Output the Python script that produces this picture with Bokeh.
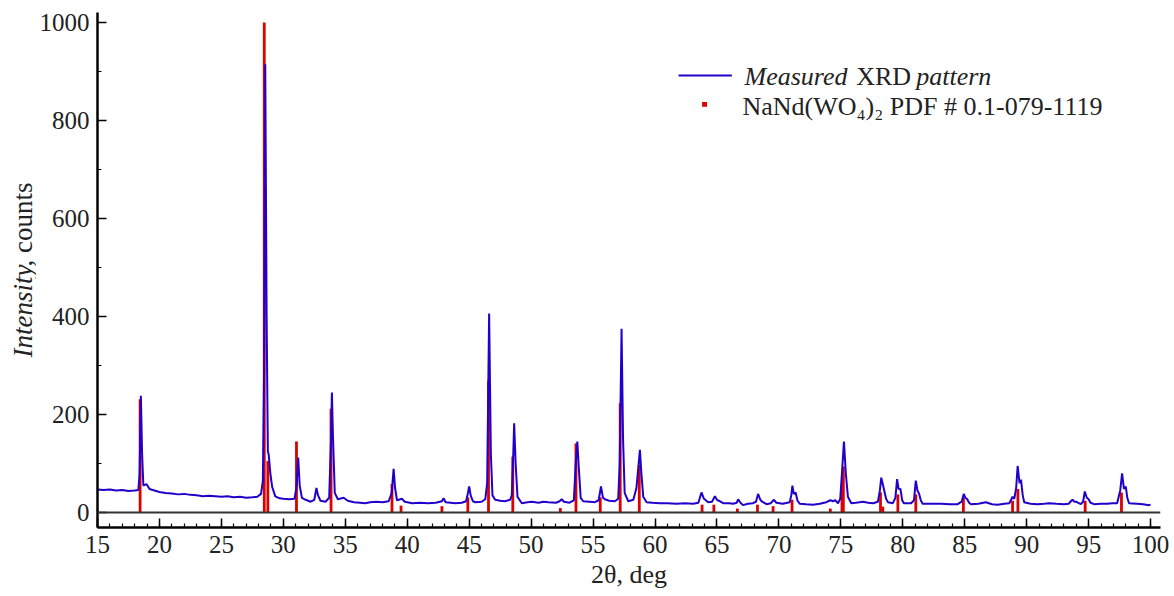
import math
from bokeh.plotting import figure
from bokeh.layouts import row
from bokeh.models import (Span, Label, BoxAnnotation, SingleIntervalTicker,
                          Range1d, ColumnDataSource)
from bokeh.embed import file_html
from bokeh.resources import INLINE

# ---- measured XRD pattern (2theta, counts) ----
two_theta = [15.0, 15.5, 16.0, 16.5, 17.0, 17.5, 18.0, 18.3, 18.4, 18.5, 18.6, 18.7, 18.95, 19.2,
             19.6, 20.0, 20.5, 21.0, 21.5, 22.0, 22.5, 23.0, 23.5, 24.0, 24.5, 25.0, 25.5, 26.0,
             26.5, 27.0, 27.5, 27.9, 28.2, 28.35, 28.45, 28.54, 28.65, 28.75, 28.82, 28.95, 29.1,
             29.35, 29.7, 30.0, 30.5, 30.9, 31.05, 31.2, 31.32, 31.5, 31.8, 32.2, 32.5, 32.67, 32.8,
             33.0, 33.4, 33.7, 33.85, 33.92, 34.0, 34.15, 34.4, 34.87, 35.2, 35.7, 36.2, 36.6, 37.0,
             37.5, 38.0, 38.5, 38.75, 38.9, 39.02, 39.17, 39.57, 39.8, 40.4, 41.0, 41.7, 42.3, 42.8,
             42.93, 43.1, 43.9, 44.4, 44.75, 44.9, 45.0, 45.12, 45.3, 45.5, 46.0, 46.3, 46.45, 46.61,
             46.75, 46.88, 47.1, 47.5, 47.9, 48.3, 48.44, 48.56, 48.63, 48.75, 48.9, 49.25, 49.7,
             50.05, 50.6, 51.0, 51.4, 52.0, 52.3, 52.47, 52.65, 53.1, 53.45, 53.6, 53.73, 53.85, 54.0,
             54.2, 54.7, 55.15, 55.45, 55.64, 55.8, 55.95, 56.3, 56.76, 57.03, 57.15, 57.3, 57.42,
             57.55, 57.84, 58.25, 58.5, 58.7, 58.78, 58.9, 59.05, 59.32, 59.8, 60.4, 61.0, 61.74,
             62.4, 63.08, 63.5, 63.75, 63.95, 64.29, 64.6, 64.83, 65.0, 65.15, 65.5, 66.0, 66.3, 66.6,
             66.71, 66.9, 67.1, 67.5, 67.9, 68.15, 68.32, 68.5, 68.65, 69.0, 69.35, 69.58, 69.8, 70.3,
             70.87, 71.0, 71.09, 71.2, 71.35, 71.5, 71.68, 72.2, 72.75, 73.3, 73.83, 74.15, 74.36,
             74.55, 74.77, 74.95, 75.1, 75.25, 75.4, 75.57, 75.84, 76.2, 76.5, 76.78, 77.2, 77.6,
             77.99, 78.15, 78.26, 78.4, 78.5, 78.65, 78.8, 79.2, 79.4, 79.54, 79.66, 79.81, 79.95,
             80.08, 80.67, 80.9, 81.05, 81.18, 81.32, 81.45, 81.6, 82.3, 83.1, 83.8, 84.43, 84.75,
             84.92, 85.05, 85.18, 85.35, 85.5, 86.1, 86.7, 87.2, 87.65, 88.2, 88.6, 88.86, 89.0,
             89.15, 89.27, 89.42, 89.54, 89.68, 89.8, 90.3, 90.88, 91.4, 91.82, 92.4, 93.0, 93.4,
             93.6, 93.7, 93.85, 93.97, 94.37, 94.55, 94.69, 94.85, 95.0, 95.15, 95.44, 96.0, 96.5,
             96.9, 97.3, 97.55, 97.7, 97.85, 98.0, 98.12, 98.26, 98.9, 99.4, 99.87, 100.0]
intensity = [47, 46, 47, 45, 46, 44, 45, 46, 80, 238, 120, 55, 58, 48,
             45, 42, 40, 39, 37, 38, 36, 35, 33, 34, 33, 32, 33, 31,
             32, 30, 31, 32, 38, 65, 300, 915, 400, 125, 118, 80, 52,
             33, 29, 28, 27, 28, 50, 112, 55, 30, 26, 22, 26, 50, 35,
             24, 22, 30, 150, 245, 160, 40, 27, 30, 24, 21, 20, 19, 21,
             22, 21, 23, 40, 89, 50, 25, 28, 22, 19, 20, 19, 20, 23,
             29, 21, 19, 20, 23, 40, 53, 35, 23, 21, 22, 27, 60, 406,
             120, 35, 26, 24, 23, 26, 35, 120, 182, 100, 32, 19, 21,
             22, 20, 22, 21, 20, 23, 27, 22, 20, 25, 100, 145, 90, 30,
             23, 22, 21, 25, 53, 30, 27, 24, 23, 28, 100, 375, 150,
             40, 23, 26, 50, 105, 128, 80, 32, 21, 20, 19, 19, 18,
             19, 18, 20, 41, 28, 21, 22, 33, 26, 24, 19, 19, 18, 20,
             27, 20, 15, 18, 19, 22, 38, 26, 22, 17, 19, 26, 20, 18,
             21, 35, 55, 38, 41, 24, 18, 17, 16, 18, 21, 25, 23,
             25, 19, 28, 85, 145, 80, 32, 19, 20, 21, 22, 20, 19,
             22, 45, 71, 56, 45, 28, 21, 19, 30, 68, 48, 48, 25,
             19, 19, 25, 65, 45, 38, 25, 18, 18, 18, 17, 17, 22,
             38, 30, 28, 20, 17, 18, 21, 17, 16, 18, 19, 32, 28,
             50, 95, 60, 67, 35, 21, 18, 17, 18, 19, 18, 17, 18,
             24, 26, 22, 22, 17, 22, 43, 30, 27, 20, 17, 18, 18,
             19, 19, 45, 80, 48, 53, 30, 19, 18, 17, 15, 16]

# ---- reference pattern NaNd(WO4)2 PDF # 0.1-079-1119 (position, relative intensity) ----
ref_pos = [18.44, 28.46, 28.75, 31.06, 33.85, 38.77, 39.5, 42.8, 44.89, 46.56, 48.52, 52.36,
           53.62, 55.58, 57.19, 58.73, 63.8, 64.75, 66.65, 68.27, 69.53, 71.06, 74.15, 75.09,
           75.2, 78.2, 78.39, 79.6, 81.05, 84.89, 88.86, 89.29, 94.72, 97.65]
ref_int = [231, 1000, 105, 145, 212, 58, 14, 13, 31, 269, 114, 9,
           141, 31, 223, 97, 16, 16, 8, 16, 13, 26, 8, 53,
           94, 41, 12, 37, 37, 30, 24, 48, 24, 41]

x_ticks_major = 5
y_ticks_major = 200

BLUE = "#2200cc"
RED = "#dd0000"
FONT = "Liberation Serif"
TXT = "#222222"

LABEL_W = 36
H = 596
FRAME_TOP = 12
FRAME_BOTTOM = 527

# narrow figure that only carries the y-axis title (mixed italic / upright);
# its frame is aligned with the main frame by the row layout, so its y range
# is expressed in page pixels of that frame
lab = figure(width=LABEL_W, height=H, output_backend="svg", toolbar_location=None,
             x_range=Range1d(0, LABEL_W), y_range=Range1d(FRAME_BOTTOM, FRAME_TOP),
             x_axis_location=None, y_axis_location=None,
             min_border_left=0, min_border_right=0, min_border_top=FRAME_TOP,
             min_border_bottom=H - FRAME_BOTTOM)
lab.outline_line_color = None
lab.grid.visible = False
lab.add_layout(Label(x=22, y=357, text="Intensity", angle=math.pi / 2, text_font=FONT,
                     text_font_style="italic", text_font_size="27px", text_color=TXT,
                     text_align="left", text_baseline="middle"))
lab.add_layout(Label(x=22, y=182, text=", counts", angle=math.pi / 2, text_font=FONT,
                     text_font_size="27px", text_color=TXT,
                     text_align="right", text_baseline="middle"))

p = figure(width=1174 - LABEL_W, height=H, output_backend="svg", toolbar_location=None,
           x_range=Range1d(15, 100.8), y_range=Range1d(-30.6, 1020.4),
           min_border_left=95 - LABEL_W, min_border_right=14, min_border_top=FRAME_TOP,
           min_border_bottom=H - FRAME_BOTTOM)
p.outline_line_color = None
p.grid.visible = False

# zero line
p.add_layout(Span(location=0, dimension="width", line_color="#333333", line_width=2))

# reference sticks
ref_src = ColumnDataSource(dict(x=ref_pos, y0=[0] * len(ref_pos), y1=ref_int))
p.segment(x0="x", y0="y0", x1="x", y1="y1", source=ref_src, line_color=RED, line_width=2.8)

# measured pattern
p.line(two_theta, intensity, line_color=BLUE, line_width=2)

# axes
for ax in (p.xaxis[0], p.yaxis[0]):
    ax.axis_line_width = 2.5
    ax.axis_line_color = "black"
    ax.major_tick_line_color = "black"
    ax.minor_tick_line_color = "black"
    ax.major_tick_line_width = 1.5
    ax.minor_tick_line_width = 1.2
    ax.major_tick_in = 9
    ax.major_tick_out = 0
    ax.minor_tick_in = 4
    ax.minor_tick_out = 0
    ax.major_label_text_font = FONT
    ax.major_label_text_font_size = "25px"
    ax.major_label_text_color = TXT

p.xaxis[0].ticker = SingleIntervalTicker(interval=x_ticks_major, num_minor_ticks=5)
p.yaxis[0].ticker = SingleIntervalTicker(interval=y_ticks_major, num_minor_ticks=2)
p.xaxis[0].major_label_standoff = 8
p.yaxis[0].major_label_standoff = 8
p.xaxis[0].axis_label = "2θ, deg"
p.xaxis[0].axis_label_text_font = FONT
p.xaxis[0].axis_label_text_font_style = "normal"
p.xaxis[0].axis_label_text_font_size = "26px"
p.xaxis[0].axis_label_text_color = TXT
p.xaxis[0].axis_label_standoff = 4

# legend
p.add_layout(BoxAnnotation(left=61.9, right=66.2, bottom=890, top=894,
                           fill_color=BLUE, fill_alpha=1, line_color=None))
p.add_layout(BoxAnnotation(left=63.8, right=64.2, bottom=828, top=838,
                           fill_color=RED, fill_alpha=1, line_color=None))
p.add_layout(Label(x=67.22, y=890, text="Measured", text_font=FONT, text_font_style="italic",
                   text_font_size="26px", text_color=TXT, text_baseline="middle"))
p.add_layout(Label(x=76.24, y=890, text="XRD", text_font=FONT,
                   text_font_size="26px", text_color=TXT, text_baseline="middle"))
p.add_layout(Label(x=81.08, y=890, text="pattern", text_font=FONT, text_font_style="italic",
                   text_font_size="26px", text_color=TXT, text_baseline="middle"))
p.add_layout(Label(x=67.06, y=829, text="NaNd(WO₄)₂ PDF # 0.1-079-1119", text_font=FONT,
                   text_font_size="26px", text_color=TXT, text_baseline="middle"))

layout = row(lab, p, spacing=0)
open("out.html", "w").write(file_html(layout, INLINE))
